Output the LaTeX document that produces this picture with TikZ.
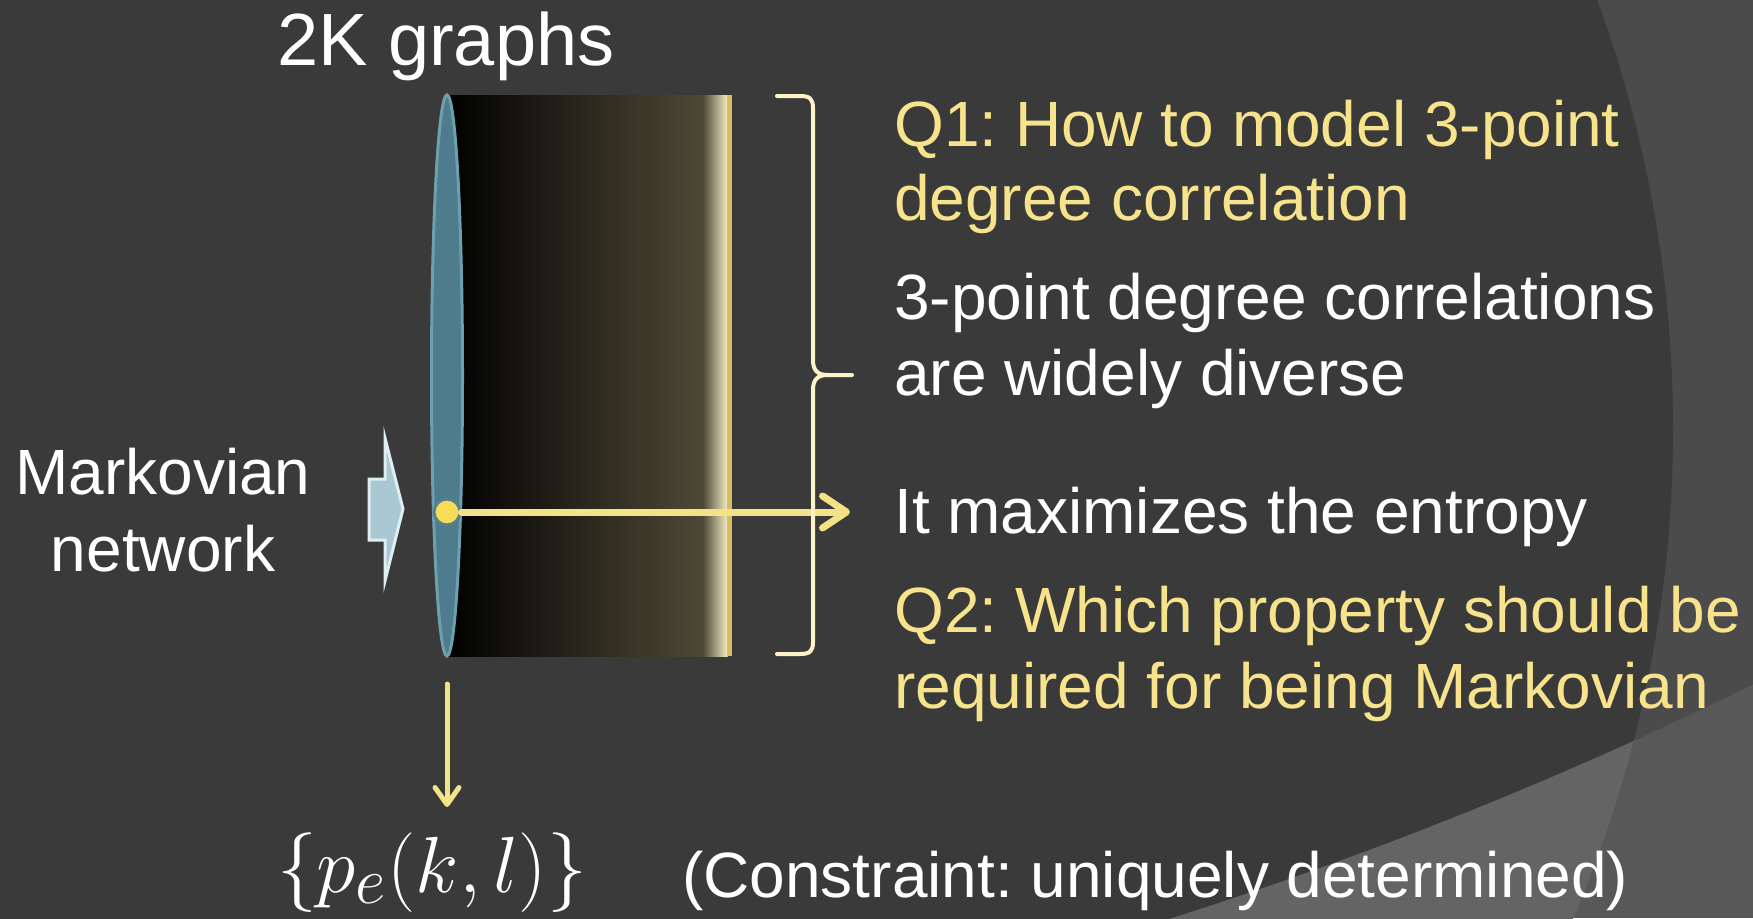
\documentclass[tikz,border=0pt]{standalone}
\usepackage{fontspec}
\usepackage{graphicx}
\usetikzlibrary{arrows.meta,shapes.geometric}
\newfontfamily\arial{Liberation Sans}
\definecolor{bgdark}{HTML}{3A3A3A}
\definecolor{bgA}{HTML}{4B4B4B}
\definecolor{bgB}{HTML}{646464}
\definecolor{bgC}{HTML}{585858}
\definecolor{txtyel}{HTML}{F6E38C}
\definecolor{arrowyel}{HTML}{F4E286}
\definecolor{braceCol}{HTML}{FDF3CB}
\definecolor{faceFill}{HTML}{4E7C8C}
\definecolor{faceLine}{HTML}{6CA0B0}
\definecolor{dotFill}{HTML}{F5DB58}
\definecolor{dotLine}{HTML}{56808F}
\definecolor{blockFill}{HTML}{A9C8D3}
\definecolor{blockLine}{HTML}{E0EEF3}
\definecolor{bodyEnd}{HTML}{4E4936}
\definecolor{bodyCream}{HTML}{F4EDC6}
\definecolor{bodyEdge}{HTML}{D6BE5E}
\begin{document}
\frenchspacing
\begin{tikzpicture}[x=1pt,y=-1pt,
  txt/.style={font=\arial\frenchspacing\fontsize{64}{76}\selectfont, inner sep=0pt, anchor=base west, text=white},
  ytxt/.style={txt, text=txtyel},
  yarrow/.style={draw=arrowyel, line cap=round},
  facestyle/.style={ellipse, draw=faceLine, fill=faceFill, line width=3pt, inner sep=0pt},
  dotstyle/.style={circle, fill=dotFill, draw=dotLine, line width=3pt, minimum size=26pt, inner sep=0pt}
]
\useasboundingbox (0,0) rectangle (1753,918);
\begin{scope}
\clip (0,0) rectangle (1753,918);
\fill[bgC] (0,0) rectangle (1753,918);
\fill[bgB] (428,429) circle[radius=1245pt];
\fill[bgA] (-107,-3107) circle[radius=4222pt];
\begin{scope}
\clip (428,429) circle[radius=1245pt];
\fill[bgdark] (-107,-3107) circle[radius=4222pt];
\end{scope}
\end{scope}

% cylinder body
\shade[left color=black, right color=bodyEnd] (447,95) rectangle (703.5,656);
\shade[left color=bodyEnd, right color=bodyCream] (703,95) rectangle (727.5,656);
\fill[bodyEdge] (727,95) rectangle (732,656);

% front face
\node[facestyle, minimum width=31pt, minimum height=561pt] (face) at (447,375.5) {};

% marker dot
\node[dotstyle] (dot) at (447,512) {};

% horizontal arrow
\coordinate (tipR) at (850,512);
\draw[yarrow, line width=7pt, -{Straight Barb[length=24pt,width=32pt,round]}] (dot.east) -- (tipR);

% down arrow
\coordinate (dtop) at (447,684);
\coordinate (dbot) at (447,807);
\draw[yarrow, line width=5pt, -{Straight Barb[length=17pt,width=24pt,round]}] (dtop) -- (dbot);

% block arrow
\draw[fill=blockFill, draw=blockLine, line width=3pt, line join=miter]
  (369,479) -- (385,479) -- (385,438) -- (403,509) -- (385,581) -- (385,540) -- (369,540) -- cycle;

% brace
\draw[braceCol, line width=4pt, line cap=round, line join=round]
  (777,96) -- (800,96) .. controls (810,96) and (813,99) .. (813,108)
  -- (813,360) .. controls (813,371) and (818,375) .. (828,375) -- (852,375);
\draw[braceCol, line width=4pt, line cap=round, line join=round]
  (828,375) .. controls (818,375) and (813,379) .. (813,390)
  -- (813,642) .. controls (813,651) and (810,654) .. (800,654) -- (777,654);

% texts
\node[txt, font=\arial\fontsize{74}{88}\selectfont] (t2k) at (277,65) {2K graphs};
\node[txt, anchor=base] (mk1) at (163,494) {Markovian};
\node[txt, anchor=base] (mk2) at (163,571) {network};
\node[ytxt] (q1a) at (894,146) {Q1: How to model 3-point};
\node[ytxt] (q1b) at (894,220) {degree correlation};
\node[txt] (d1) at (894,319) {3-point degree correlations};
\node[txt] (d2) at (894,395) {are widely diverse};
\node[txt] (ent) at (894,533) {It maximizes the entropy};
\node[ytxt] (q2a) at (894,632) {Q2: Which property should be};
\node[ytxt] (q2b) at (894,708) {required for being Markovian};
\node[txt] (con) at (682,897) {(Constraint: uniquely determined)};
\node[text=white, inner sep=0pt, anchor=base] (pe) at (432,892)
  {\scalebox{3.2}{\fontsize{24.88}{30}\selectfont$\{p_e(k,l)\}$}};
\end{tikzpicture}
\end{document}
